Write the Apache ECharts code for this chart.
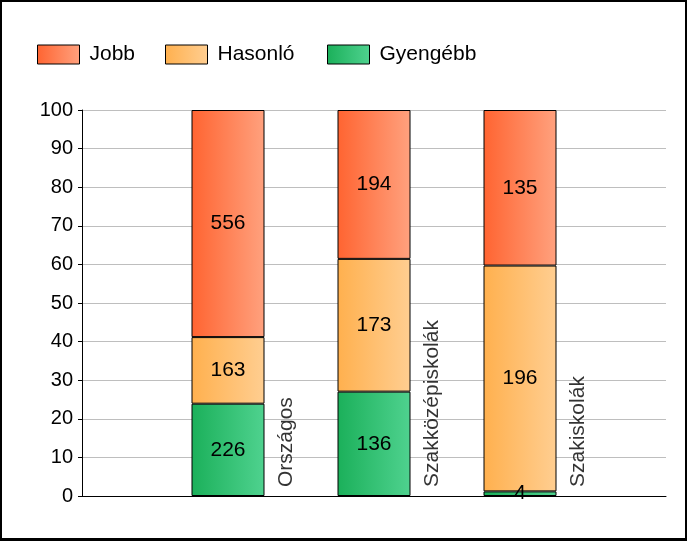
<!DOCTYPE html>
<html>
<head>
<meta charset="utf-8">
<script src="https://cdn.jsdelivr.net/npm/echarts@6/dist/echarts.min.js"></script>
<style>
html,body{margin:0;padding:0;background:#fff;}
#c{width:687px;height:541px;box-sizing:border-box;border:2px solid #000;border-bottom-width:3px;}
</style>
</head>
<body>
<div id="c"></div>
<script>
// Data
var categories = ['Országos', 'Szakközépiskolák', 'Szakiskolák'];
var seriesNames = ['Jobb', 'Hasonló', 'Gyengébb'];
var gyengebb = [226, 136, 4];
var hasonlo = [163, 173, 196];
var jobb = [556, 194, 135];
var yTicks = [0, 10, 20, 30, 40, 50, 60, 70, 80, 90, 100];

// axis has an empty slot on each side; bars sit on the inner points
var axisCats = [''].concat(categories, [' ']);
var totals = categories.map(function (c, i) { return gyengebb[i] + hasonlo[i] + jobb[i]; });
function pct(arr) {
  return [null].concat(arr.map(function (v, i) { return v / totals[i] * 100; }), [null]);
}
function grad(a, b) {
  return new echarts.graphic.LinearGradient(0, 0, 1, 0, [{offset: 0, color: a}, {offset: 1, color: b}]);
}
var colorStops = {
  'Jobb': ['#FF6431', '#FFA17E'],
  'Hasonló': ['#FFB04E', '#FFCE91'],
  'Gyengébb': ['#1BB05A', '#4FD28F']
};
var FONT = 'Liberation Sans, Arial, sans-serif';

function barSeries(name, arr) {
  return {
    name: name,
    type: 'bar',
    stack: 'all',
    barWidth: 73,
    data: pct(arr),
    itemStyle: {color: grad(colorStops[name][0], colorStops[name][1]), borderColor: '#000', borderWidth: 1},
    label: {
      show: true, position: 'inside', color: '#000', fontSize: 21, fontFamily: FONT,
      formatter: function (p) { return String(arr[p.dataIndex - 1]); }
    },
    emphasis: {disabled: true}
  };
}

var legendX = [37, 165, 327];
var chart = echarts.init(document.getElementById('c'));
chart.setOption({
  animation: false,
  legend: seriesNames.map(function (n, i) {
    return {
      data: [{name: n, icon: 'rect', itemStyle: {color: grad(colorStops[n][0], colorStops[n][1]), borderColor: '#000', borderWidth: 1}}],
      left: legendX[i] - 2, top: 42,
      itemWidth: 42, itemHeight: 19, padding: 0,
      selectedMode: false,
      textStyle: {fontSize: 21, fontFamily: FONT, color: '#000', padding: [0, 0, 0, 5]}
    };
  }),
  grid: {left: 80, right: 19, top: 108, bottom: 42},
  xAxis: {
    type: 'category', data: axisCats, boundaryGap: false,
    axisLine: {show: true, onZero: false, lineStyle: {color: '#000', width: 1}},
    axisTick: {show: false}, axisLabel: {show: false}, splitLine: {show: false}
  },
  yAxis: {
    type: 'value', min: yTicks[0], max: yTicks[yTicks.length - 1], interval: 10,
    axisLine: {show: true, lineStyle: {color: '#000', width: 1}},
    axisTick: {show: true, length: 4, lineStyle: {color: '#000'}},
    axisLabel: {color: '#000', fontSize: 20, fontFamily: FONT, margin: 9},
    splitLine: {show: true, lineStyle: {color: '#BEBEBE', width: 1}}
  },
  series: [
    barSeries('Gyengébb', gyengebb),
    barSeries('Hasonló', hasonlo),
    barSeries('Jobb', jobb),
    {
      type: 'scatter', symbolSize: 0, silent: true,
      data: [null].concat(categories.map(function () { return 0; }), [null]),
      label: {
        show: true, rotate: 90, position: 'inside', align: 'left', verticalAlign: 'middle',
        offset: [9, 58], color: '#000', fontSize: 21, fontFamily: FONT,
        formatter: function (p) { return axisCats[p.dataIndex]; }
      },
      z: 5
    }
  ]
});
</script>
</body>
</html>
